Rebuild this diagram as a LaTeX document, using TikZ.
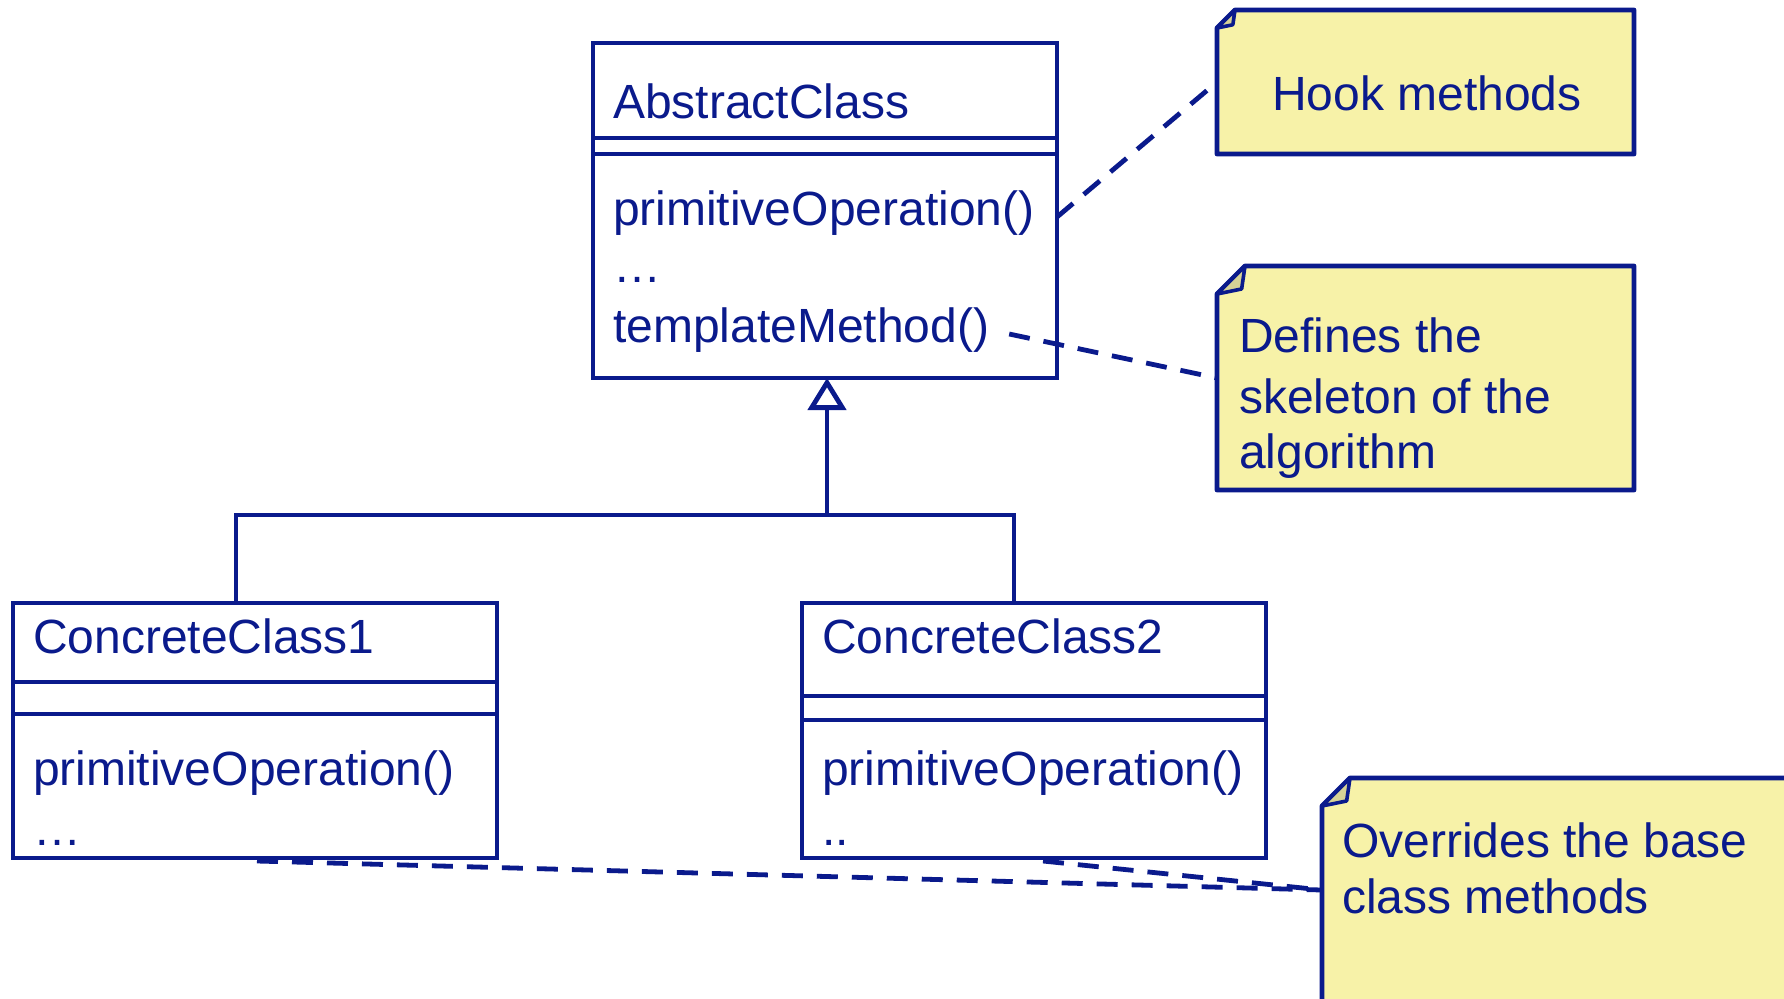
\documentclass[tikz,border=0pt]{standalone}
\usepackage{fontspec}
\setmainfont{Liberation Sans}
\usetikzlibrary{arrows.meta,calc}
\definecolor{umlblue}{RGB}{10,26,140}
\definecolor{notefill}{RGB}{247,242,168}
\definecolor{foldfill}{RGB}{214,210,150}

% note outline with a folded top-left corner: #1 = area node, #2 = corner size
\newcommand\drawnote[2]{%
  \path[notebody] ($(#1.north west)+(0,#2)$) -- ($(#1.north west)+(#2,0)$)
    -- (#1.north east) -- (#1.south east) -- (#1.south west) -- cycle;
  \path[fold] ($(#1.north west)+(0,#2)$) -- ($(#1.north west)+(0.88*#2,0.82*#2)$)
    -- ($(#1.north west)+(#2,0)$) -- cycle;
}

\begin{document}
\begin{tikzpicture}[x=0.5pt,y=-0.5pt,
  every node/.style={inner sep=0pt, outer sep=0pt},
  classbox/.style={draw=umlblue, line width=2.4pt, anchor=north west, fill=white},
  txt/.style={anchor=base west, text=umlblue, font=\fontsize{24}{29}\selectfont},
  divider/.style={draw=umlblue, line width=2.4pt},
  notearea/.style={anchor=north west},
  notebody/.style={draw=umlblue, fill=notefill, line width=2.4pt, line join=round},
  fold/.style={draw=umlblue, fill=foldfill, line width=1.8pt, line join=round},
  link/.style={draw=umlblue, line width=2.4pt},
  anchorline/.style={draw=umlblue, line width=2.4pt, dash pattern=on 10.5pt off 7pt},
]
\useasboundingbox (0,0) rectangle (1784,998);

% class boxes
\node[classbox, minimum width=232pt, minimum height=167.5pt] (abs) at (593,43) {};
\node[classbox, minimum width=242pt, minimum height=127.5pt] (cc1) at (13,603) {};
\node[classbox, minimum width=232pt, minimum height=127.5pt] (cc2) at (802,603) {};

% compartment separators
\draw[divider] (593,138) -- (1057,138) (593,154) -- (1057,154);
\draw[divider] (13,682) -- (497,682) (13,714) -- (497,714);
\draw[divider] (802,696) -- (1266,696) (802,720) -- (1266,720);

% class texts
\node[txt] (absname) at (613,118) {AbstractClass};
\node[txt] (absop) at (613,225) {primitiveOperation()};
\node[txt] (absdots) at (613,282) {…};
\node[txt] (tm) at (613,342) {templateMethod()};

\node[txt] (cc1name) at (33,653) {ConcreteClass1};
\node[txt] (cc1op) at (33,785) {primitiveOperation()};
\node[txt] (cc1dots) at (33,845) {…};

\node[txt] (cc2name) at (822,653) {ConcreteClass2};
\node[txt] (cc2op) at (822,785) {primitiveOperation()};
\node[txt] (cc2dots) at (822,845) {..};

% notes
\node[notearea, minimum width=208.5pt, minimum height=72pt] (hook) at (1217,10) {};
\node[notearea, minimum width=208.5pt, minimum height=112pt] (defines) at (1217,266) {};
\node[notearea, minimum width=240pt, minimum height=112pt] (over) at (1322,778) {};
\drawnote{hook}{18}
\drawnote{defines}{28}
\drawnote{over}{28}

\node[txt, anchor=base] (hooktxt) at (1427,110) {Hook methods};
\node[txt] (def1) at (1239,352) {Defines the};
\node[txt] (def2) at (1239,413) {skeleton of the};
\node[txt] (def3) at (1239,468) {algorithm};
\node[txt] (ov1) at (1342,857) {Overrides the base};
\node[txt] (ov2) at (1342,913) {class methods};

% generalization
\coordinate (j) at (827,515);
\draw[link] ($(cc1.north)+(-19,0)$) |- (j) -| ($(cc2.north)+(-20,0)$);
\draw[link, -{Triangle[open, length=16pt, width=19pt, fill=white]}] (j) -- ($(abs.south)+(2,0)$);

% note anchors
\draw[anchorline] ($(abs.north east)+(0,174)$) -- (hook.west);
\draw[anchorline] ($(tm.base east)+(20,-8)$) -- (defines.west);
\draw[anchorline] ($(cc1.south)+(2,3)$) -- (over.west);
\draw[anchorline] ($(cc2.south)+(9,3)$) -- (over.west);
\end{tikzpicture}
\end{document}
